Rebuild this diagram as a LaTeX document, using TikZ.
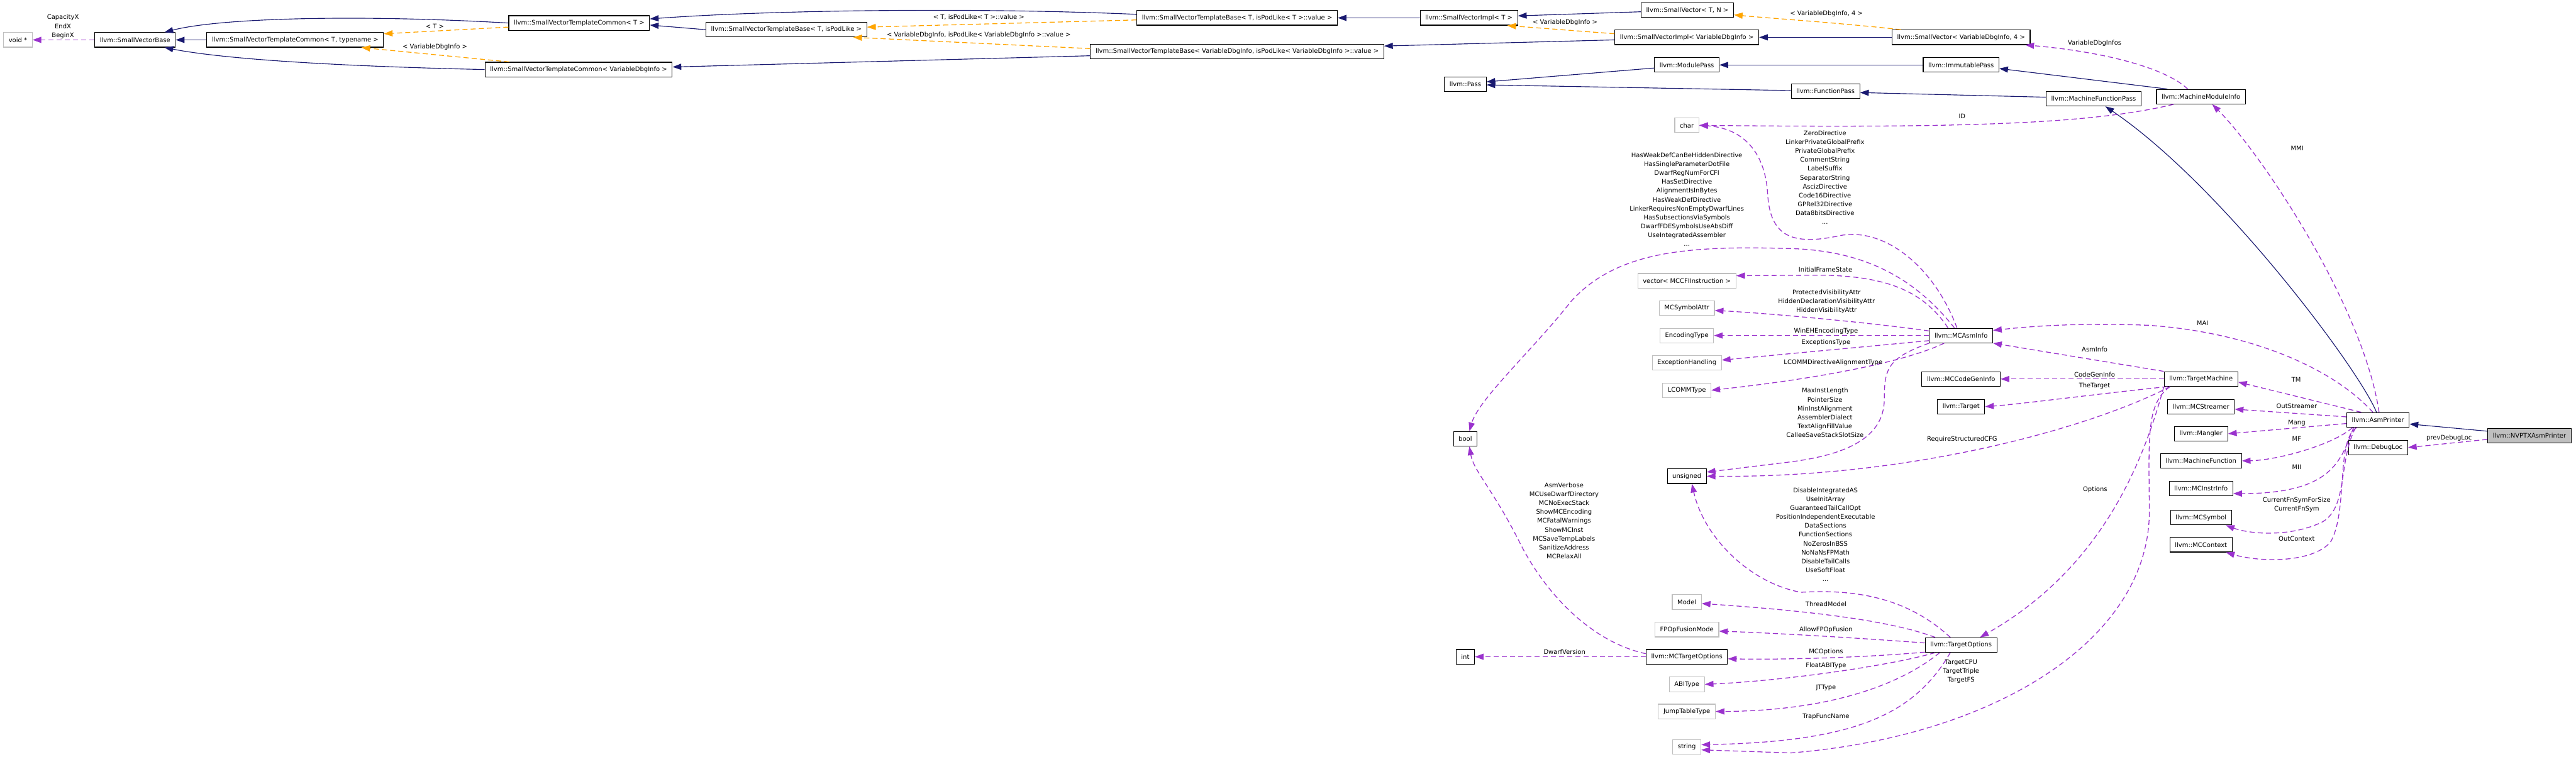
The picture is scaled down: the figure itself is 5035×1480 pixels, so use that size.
\documentclass[tikz,border=0pt]{standalone}
\usepackage{fontspec}
\newfontfamily\dxfont{DejaVu Sans}
\usetikzlibrary{arrows.meta,calc}
\definecolor{inhblue}{RGB}{25,25,112}
\definecolor{tmplorange}{RGB}{255,165,0}
\definecolor{usepurple}{RGB}{154,50,205}
\definecolor{extgray}{RGB}{191,191,191}
\tikzset{
  cls/.style={draw=black, line width=0.8pt, fill=white, font=\dxfont\fontsize{7}{9.9}\selectfont,
    minimum height=0.57cm, inner xsep=0.2cm, inner ysep=0pt},
  ext/.style={cls, draw=extgray},
  focus/.style={cls, fill=extgray},
  lbl/.style={font=\dxfont\fontsize{7}{9.9}\selectfont, align=center, inner sep=0pt},
  inh/.style={draw=inhblue, line width=0.8pt, -{Triangle[length=0.34cm,width=0.24cm]}},
  tmpl/.style={draw=tmplorange, line width=0.9pt, dash pattern=on 0.2cm off 0.12cm, -{Triangle[length=0.34cm,width=0.24cm]}},
  usage/.style={draw=usepurple, line width=0.9pt, dash pattern=on 0.2cm off 0.12cm, -{Triangle[length=0.34cm,width=0.24cm]}}
}

\begin{document}
\begin{tikzpicture}[x=0.02cm, y=-0.02cm]
    \fill[white] (0,0) rectangle (5035,1480);
    \useasboundingbox (0,0) rectangle (5035,1480);

    % SmallVector family
    \node[ext] (voidp) at (35,78) {void *};
    \node[cls] (svbase) at (264,78) {llvm::SmallVectorBase};
    \node[cls] (svtcTt) at (577,78) {llvm::SmallVectorTemplateCommon< T, typename >};
    \node[cls] (svtcT) at (1132,45) {llvm::SmallVectorTemplateCommon< T >};
    \node[cls] (svtcV) at (1131,136) {llvm::SmallVectorTemplateCommon< VariableDbgInfo >};
    \node[cls] (svtbTp) at (1537,58) {llvm::SmallVectorTemplateBase< T, isPodLike >};
    \node[cls] (svtbT) at (2418,35) {llvm::SmallVectorTemplateBase< T, isPodLike< T >::value >};
    \node[cls] (svtbV) at (2418,101) {llvm::SmallVectorTemplateBase< VariableDbgInfo, isPodLike< VariableDbgInfo >::value >};
    \node[cls] (sviT) at (2871,35) {llvm::SmallVectorImpl< T >};
    \node[cls] (svTN) at (3298,20) {llvm::SmallVector< T, N >};
    \node[cls] (sviV) at (3297,73) {llvm::SmallVectorImpl< VariableDbgInfo >};
    \node[cls] (svV4) at (3833,73) {llvm::SmallVector< VariableDbgInfo, 4 >};

    % Passes
    \node[cls] (pass) at (2864,165) {llvm::Pass};
    \node[cls] (modpass) at (3297,127) {llvm::ModulePass};
    \node[cls] (funcpass) at (3568,178) {llvm::FunctionPass};
    \node[cls] (immpass) at (3833,127) {llvm::ImmutablePass};
    \node[cls] (mfpass) at (4092,193) {llvm::MachineFunctionPass};
    \node[cls] (mmi) at (4302,189) {llvm::MachineModuleInfo};

    % Member types
    \node[ext] (chr) at (3297,245) {char};
    \node[ext] (vecCFI) at (3297,549) {vector< MCCFIInstruction >};
    \node[ext] (symattr) at (3297,602) {MCSymbolAttr};
    \node[ext] (enctype) at (3297,656) {EncodingType};
    \node[ext] (exhand) at (3297,709) {ExceptionHandling};
    \node[ext] (lcomm) at (3297,763) {LCOMMType};
    \node[cls] (boolt) at (2864,858) {bool};
    \node[cls] (uns) at (3297,931) {unsigned};
    \node[ext] (model) at (3297,1177) {Model};
    \node[ext] (fpfm) at (3297,1231) {FPOpFusionMode};
    \node[cls] (mcto) at (3297,1284) {llvm::MCTargetOptions};
    \node[cls] (intt) at (2864,1284) {int};
    \node[ext] (abit) at (3297,1338) {ABIType};
    \node[ext] (jtt) at (3297,1391) {JumpTableType};
    \node[ext] (strg) at (3297,1460) {string};

    % MC and target layer
    \node[cls] (mcasm) at (3833,656) {llvm::MCAsmInfo};
    \node[cls] (mccgi) at (3833,741) {llvm::MCCodeGenInfo};
    \node[cls] (target) at (3833,795) {llvm::Target};
    \node[cls] (topts) at (3833,1261) {llvm::TargetOptions};
    \node[cls] (tm) at (4302,741) {llvm::TargetMachine};
    \node[cls] (mcstr) at (4302,795) {llvm::MCStreamer};
    \node[cls] (mangler) at (4302,848) {llvm::Mangler};
    \node[cls] (mfunc) at (4302,901) {llvm::MachineFunction};
    \node[cls] (mcii) at (4302,955) {llvm::MCInstrInfo};
    \node[cls] (mcsym) at (4302,1012) {llvm::MCSymbol};
    \node[cls] (mcctx) at (4302,1065) {llvm::MCContext};
    \node[cls] (asmp) at (4648,821) {llvm::AsmPrinter};
    \node[cls] (dbgloc) at (4648,875) {llvm::DebugLoc};
    \node[focus] (nvptx) at (4944,852) {llvm::NVPTXAsmPrinter};

    % Inheritance
    \draw[inh] (svtcTt) -- (svbase);
    \draw[inh] (svtcT.west) .. controls (700,28) and (430,35) .. ($(svbase.north east)+(-22,0)$);
    \draw[inh] (svtcV.west) .. controls (600,128) and (420,112) .. ($(svbase.south east)+(-22,0)$);
    \draw[inh] (svtbTp.west) -- ($(svtcT.east)+(0,4)$);
    \draw[inh] ($(svtbT.west)+(0,-7)$) .. controls (1900,14) and (1500,20) .. ($(svtcT.east)+(0,-8)$);
    \draw[inh] ($(svtbV.west)+(0,8)$) -- ($(svtcV.east)+(0,-5)$);
    \draw[inh] (sviT.west) -- (svtbT.east);
    \draw[inh] ($(sviV.west)+(0,5)$) -- ($(svtbV.east)+(0,-11)$);
    \draw[inh] ($(svTN.west)+(0,3)$) -- ($(sviT.east)+(0,-4)$);
    \draw[inh] (svV4.west) -- (sviV.east);
    \draw[inh] ($(modpass.west)+(0,6)$) -- ($(pass.east)+(0,-5)$);
    \draw[inh] ($(funcpass.west)+(0,-1)$) -- ($(pass.east)+(0,1)$);
    \draw[inh] (immpass.west) -- (modpass.east);
    \draw[inh] ($(mmi.north west)+(22,0)$) -- ($(immpass.east)+(0,7)$);
    \draw[inh] ($(mfpass.west)+(0,-3)$) -- ($(funcpass.east)+(0,3)$);
    \draw[inh] ($(asmp.north)+(-3,0)$) .. controls (4610,720) and (4340,360) .. ($(mfpass.south)+(23,0)$);
    \draw[inh] ($(nvptx.west)+(0,-9)$) -- ($(asmp.east)+(0,8)$);

    % Template instances
    \draw[tmpl] ($(svtcT.west)+(0,8)$) -- ($(svtcTt.north east)+(0,3)$);
    \draw[tmpl] ($(svtcV.north west)+(48,0)$) -- ($(svtcTt.south east)+(-44,0)$);
    \draw[tmpl] ($(svtbT.west)+(0,4)$) -- ($(svtbTp.east)+(0,-5)$);
    \draw[tmpl] ($(svtbV.west)+(0,-6)$) -- ($(svtbTp.south east)+(-27,0)$);
    \draw[tmpl] ($(sviV.west)+(0,-7)$) -- ($(sviT.south east)+(-21,0)$);
    \draw[tmpl] ($(svV4.north west)+(18,0)$) .. controls (3600,45) and (3450,35) .. ($(svTN.east)+(0,9)$);

    % Members
    \draw[usage] (svbase) -- (voidp);
    \draw[usage] ($(mmi.north)+(-26,0)$) .. controls (4230,130) and (4100,100) .. ($(svV4.south east)+(-10,0)$);
    \draw[usage] ($(mmi.south west)+(34,0)$) .. controls (4080,245) and (3800,250) .. (chr.east);
    \draw[usage] ($(asmp.north)+(2,0)$) .. controls (4620,600) and (4420,300) .. ($(mmi.south)+(22,0)$);
    \draw[usage] ($(asmp.north)+(-10,0)$) .. controls (4560,720) and (4400,650) .. (4200,636) .. controls (4050,630) and (3950,640) .. ($(mcasm.east)+(0,-10)$);
    \draw[usage] ($(asmp.north west)+(29,0)$) -- ($(tm.east)+(0,6)$);
    \draw[usage] ($(asmp.west)+(0,-6)$) -- ($(mcstr.east)+(0,5)$);
    \draw[usage] ($(asmp.west)+(0,7)$) -- (mangler.east);
    \draw[usage] ($(asmp.south west)+(12,0)$) .. controls (4560,870) and (4450,900) .. (mfunc.east);
    \draw[usage] ($(asmp.south west)+(14,0)$) .. controls (4575,900) and (4560,965) .. ($(mcii.east)+(0,10)$);
    \draw[usage] ($(asmp.south west)+(18,0)$) .. controls (4570,900) and (4590,990) .. (4540,1020) .. controls (4480,1050) and (4400,1045) .. ($(mcsym.south east)+(-12,0)$);
    \draw[usage] ($(asmp.south west)+(20,0)$) .. controls (4565,860) and (4590,1000) .. (4555,1060) .. controls (4520,1100) and (4420,1100) .. ($(mcctx.south east)+(-13,0)$);
    \draw[usage] ($(nvptx.west)+(0,7)$) -- (dbgloc.east);

    \draw[usage] (tm.north west) -- (mcasm.south east);
    \draw[usage] (tm.west) -- (mccgi.east);
    \draw[usage] ($(tm.south west)+(7,0)$) .. controls (4100,770) and (3950,790) .. (target.east);
    \draw[usage] ($(tm.south west)+(12,0)$) .. controls (4100,830) and (3750,935) .. (uns.east);
    \draw[usage] (tm.south west) .. controls (4190,900) and (4110,1110) .. ($(topts.north)+(37,0)$);
    \draw[usage] ($(tm.south west)+(12,0)$) .. controls (4195,790) and (4200,850) .. (4201,1000) .. controls (4201,1250) and (3900,1440) .. (3500,1472) -- ($(strg.east)+(0,6)$);

    \draw[usage] ($(mcasm.north)+(-8,0)$) .. controls (3780,520) and (3680,440) .. (3590,462) .. controls (3500,480) and (3460,460) .. (3455,380) .. controls (3450,290) and (3400,250) .. (chr.east);
    \draw[usage] ($(mcasm.north)+(-13,0)$) .. controls (3740,540) and (3640,490) .. (3500,486) .. controls (3300,480) and (3160,490) .. (3070,590) .. controls (3000,680) and (2890,780) .. ($(boolt.north)+(8,0)$);
    \draw[usage] ($(mcasm.north west)+(37,0)$) .. controls (3760,570) and (3690,540) .. (3560,538) -- ($(vecCFI.east)+(0,-10)$);
    \draw[usage] ($(mcasm.west)+(0,-9)$) .. controls (3650,630) and (3450,612) .. ($(symattr.east)+(0,5)$);
    \draw[usage] (mcasm.west) -- (enctype.east);
    \draw[usage] ($(mcasm.west)+(0,10)$) -- ($(exhand.east)+(0,-5)$);
    \draw[usage] ($(mcasm.south)+(-33,0)$) .. controls (3740,700) and (3600,735) .. (lcomm.east);
    \draw[usage] (mcasm.south west) .. controls (3690,700) and (3683,720) .. (3683,780) .. controls (3683,860) and (3600,890) .. (3500,903) -- ($(uns.east)+(0,-8)$);

    \draw[usage] ($(topts.north west)+(20,0)$) .. controls (3700,1215) and (3550,1195) .. ($(model.east)+(0,3)$);
    \draw[usage] ($(topts.north)+(-21,0)$) .. controls (3740,1180) and (3650,1150) .. (3520,1158) .. controls (3420,1140) and (3330,1050) .. ($(uns.south)+(10,0)$);
    \draw[usage] ($(topts.west)+(0,-4)$) .. controls (3600,1245) and (3450,1237) .. ($(fpfm.east)+(0,3)$);
    \draw[usage] ($(topts.west)+(0,14)$) .. controls (3650,1285) and (3500,1290) .. ($(mcto.east)+(0,4)$);
    \draw[usage] ($(topts.south west)+(20,0)$) .. controls (3700,1300) and (3500,1330) .. (abit.east);
    \draw[usage] ($(topts.south west)+(29,0)$) .. controls (3700,1350) and (3550,1390) .. (jtt.east);
    \draw[usage] ($(topts.south)+(-21,0)$) .. controls (3740,1400) and (3620,1450) .. ($(strg.east)+(0,-4)$);

    \draw[usage] (mcto.west) -- (intt.east);
    \draw[usage] ($(mcto.west)+(0,-6)$) .. controls (3110,1255) and (3020,1160) .. (2970,1060) .. controls (2920,960) and (2880,920) .. ($(boolt.south)+(8,0)$);

    % Edge labels
    \node[lbl] (lCapX) at (123,52) {CapacityX\\EndX\\BeginX};
    \node[lbl] (lT) at (850,51) {< T >};
    \node[lbl] (lVdiA) at (850,92) {< VariableDbgInfo >};
    \node[lbl] (lTpod) at (1913,34) {< T, isPodLike< T >::value >};
    \node[lbl] (lVpod) at (1913,68) {< VariableDbgInfo, isPodLike< VariableDbgInfo >::value >};
    \node[lbl] (lVdiB) at (3059,44) {< VariableDbgInfo >};
    \node[lbl] (lVdiC) at (3570,27) {< VariableDbgInfo, 4 >};
    \node[lbl] (lVdis) at (4094,85) {VariableDbgInfos};
    \node[lbl] (lID) at (3835,227) {ID};
    \node[lbl] (lMMI) at (4490,290) {MMI};
    \node[lbl] (lBoolA) at (3297,390) {HasWeakDefCanBeHiddenDirective\\HasSingleParameterDotFile\\DwarfRegNumForCFI\\HasSetDirective\\AlignmentIsInBytes\\HasWeakDefDirective\\LinkerRequiresNonEmptyDwarfLines\\HasSubsectionsViaSymbols\\DwarfFDESymbolsUseAbsDiff\\UseIntegratedAssembler\\...};
    \node[lbl] (lChar) at (3567,347) {ZeroDirective\\LinkerPrivateGlobalPrefix\\PrivateGlobalPrefix\\CommentString\\LabelSuffix\\SeparatorString\\AscizDirective\\Code16Directive\\GPRel32Directive\\Data8bitsDirective\\...};
    \node[lbl] (lIFS) at (3568,527) {InitialFrameState};
    \node[lbl] (lVis) at (3570,590) {ProtectedVisibilityAttr\\HiddenDeclarationVisibilityAttr\\HiddenVisibilityAttr};
    \node[lbl] (lWinEH) at (3569,647) {WinEHEncodingType};
    \node[lbl] (lExc) at (3569,669) {ExceptionsType};
    \node[lbl] (lLcomm) at (3583,709) {LCOMMDirectiveAlignmentType};
    \node[lbl] (lUnsA) at (3567,807) {MaxInstLength\\PointerSize\\MinInstAlignment\\AssemblerDialect\\TextAlignFillValue\\CalleeSaveStackSlotSize};
    \node[lbl] (lMAI) at (4305,632) {MAI};
    \node[lbl] (lAsmInfo) at (4094,683) {AsmInfo};
    \node[lbl] (lCGI) at (4094,732) {CodeGenInfo};
    \node[lbl] (lTarget) at (4094,755) {TheTarget};
    \node[lbl] (lRSC) at (3835,859) {RequireStructuredCFG};
    \node[lbl] (lOpts) at (4095,957) {Options};
    \node[lbl] (lUnsB) at (3568,1045) {DisableIntegratedAS\\UseInitArray\\GuaranteedTailCallOpt\\PositionIndependentExecutable\\DataSections\\FunctionSections\\NoZerosInBSS\\NoNaNsFPMath\\DisableTailCalls\\UseSoftFloat\\...};
    \node[lbl] (lTM) at (4488,742) {TM};
    \node[lbl] (lOutStr) at (4489,794) {OutStreamer};
    \node[lbl] (lMang) at (4489,827) {Mang};
    \node[lbl] (lMF) at (4489,858) {MF};
    \node[lbl] (lMII) at (4489,913) {MII};
    \node[lbl] (lFnSym) at (4489,987) {CurrentFnSymForSize\\CurrentFnSym};
    \node[lbl] (lOutCtx) at (4489,1053) {OutContext};
    \node[lbl] (lPrevDL) at (4787,856) {prevDebugLoc};
    \node[lbl] (lBoolB) at (3057,1018) {AsmVerbose\\MCUseDwarfDirectory\\MCNoExecStack\\ShowMCEncoding\\MCFatalWarnings\\ShowMCInst\\MCSaveTempLabels\\SanitizeAddress\\MCRelaxAll};
    \node[lbl] (lDwarf) at (3058,1275) {DwarfVersion};
    \node[lbl] (lThread) at (3569,1181) {ThreadModel};
    \node[lbl] (lFPOp) at (3569,1231) {AllowFPOpFusion};
    \node[lbl] (lMCOpt) at (3569,1275) {MCOptions};
    \node[lbl] (lFABI) at (3569,1301) {FloatABIType};
    \node[lbl] (lJT) at (3569,1345) {JTType};
    \node[lbl] (lTrap) at (3569,1401) {TrapFuncName};
    \node[lbl] (lTCPU) at (3833,1313) {TargetCPU\\TargetTriple\\TargetFS};
\end{tikzpicture}
\end{document}
